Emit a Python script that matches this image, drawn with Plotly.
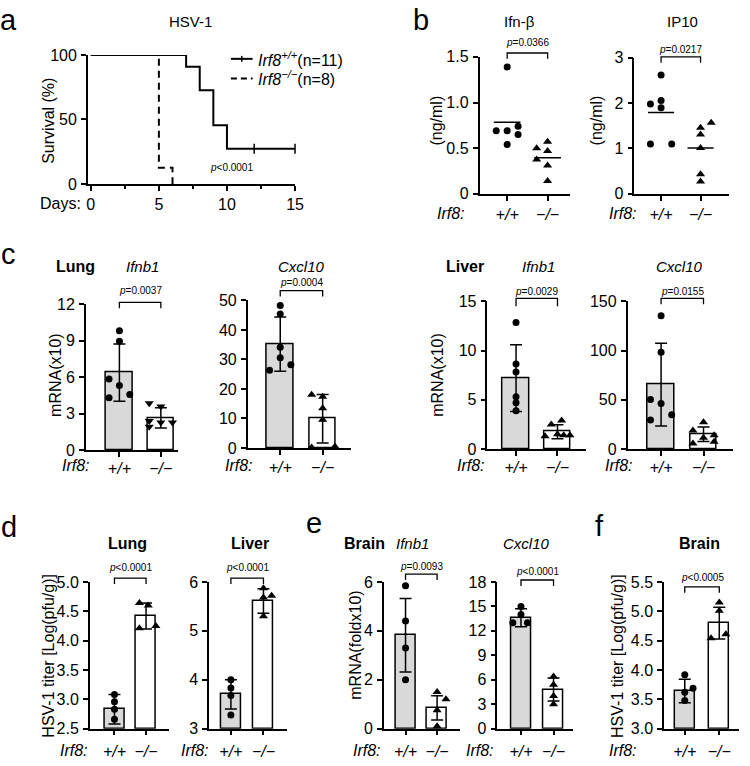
import plotly.graph_objects as go

W, H = 750, 766
FONT = "Liberation Sans, Arial, sans-serif"
GRAY = "#d9d9d9"

# ================= DATA =================
# a: survival (Kaplan-Meier)
surv_days_wt = [0, 7, 8, 9, 10, 15]
surv_pct_wt = [100, 90.9, 72.7, 45.5, 27.3, 27.3]
surv_days_ko = [0, 5, 6]
surv_pct_ko = [100, 12.5, 0]
censor_days_wt = [12, 15]
censor_pct_wt = [27.3, 27.3]
surv_xticks = [0, 5, 10, 15]
surv_yticks = [0, 50, 100]

genotype_labels = ["<i>+/+</i>", "<i>−/−</i>"]

# b: serum ELISA (ng/ml)
ifnb_serum_wt = [1.39, 0.69, 0.69, 0.74, 0.65, 0.54]
ifnb_serum_ko = [0.50, 0.57, 0.47, 0.375, 0.31, 0.14]
ip10_serum_wt = [2.62, 1.98, 2.06, 1.90, 1.10, 1.10]
ip10_serum_ko = [1.46, 1.31, 1.57, 1.01, 0.43, 0.27]
ifnb_serum_ticks = [0, 0.5, 1.0, 1.5]
ifnb_serum_ticktext = ["0", "0.5", "1.0", "1.5"]
ip10_serum_ticks = [0, 1, 2, 3]

# c: lung mRNA(x10)
lung_ifnb1_wt = [9.82, 8.95, 5.84, 5.31, 4.30, 4.57]
lung_ifnb1_ko = [3.85, 3.58, 2.39, 2.26, 2.26, 1.91]
lung_ifnb1_mean = [6.37, 2.65]
lung_ifnb1_sd = [2.35, 0.83]
lung_ifnb1_ticks = [0, 3, 6, 9, 12]

lung_cxcl10_wt = [48.3, 45.4, 34.1, 30.6, 26.3, 28.2]
lung_cxcl10_ko = [18.0, 17.4, 13.5, 9.6, 0.2, 0.5]
lung_cxcl10_mean = [35.2, 9.9]
lung_cxcl10_sd = [9.2, 8.2]
lung_cxcl10_ticks = [0, 10, 20, 30, 40, 50]

# c: liver mRNA(x10)
liver_ifnb1_wt = [12.84, 8.63, 7.83, 5.31, 4.71, 3.88]
liver_ifnb1_ko = [2.5, 2.9, 1.3, 1.5, 1.4, 1.4]
liver_ifnb1_mean = [7.2, 1.75]
liver_ifnb1_sd = [3.4, 0.7]
liver_ifnb1_ticks = [0, 5, 10, 15]

liver_cxcl10_wt = [135.4, 98.2, 50.4, 46.1, 29.5, 34.8]
liver_cxcl10_ko = [18.9, 27.2, 11.3, 5.6, 13.9, 7.3]
liver_cxcl10_mean = [65.4, 14.9]
liver_cxcl10_sd = [42.0, 7.4]
liver_cxcl10_ticks = [0, 50, 100, 150]

# d: viral titer Log(pfu/g)
lung_titer_wt = [3.08, 2.96, 2.83, 2.66]
lung_titer_ko = [4.64, 4.60, 4.21, 4.25]
lung_titer_mean = [2.83, 4.42]
lung_titer_sd = [0.25, 0.22]
lung_titer_ticks = [2.5, 3.0, 3.5, 4.0, 4.5, 5.0]
lung_titer_ticktext = ["2.5", "3.0", "3.5", "4.0", "4.5", "5.0"]

liver_titer_wt = [4.0, 3.83, 3.68, 3.28]
liver_titer_ko = [5.87, 5.68, 5.72, 5.30]
liver_titer_mean = [3.70, 5.61]
liver_titer_sd = [0.30, 0.25]
liver_titer_ticks = [3, 4, 5, 6]

# e: brain mRNA(foldx10)
brain_ifnb1_wt = [5.85, 4.4, 3.3, 2.0]
brain_ifnb1_ko = [1.5, 1.2, 0.75, 0.1]
brain_ifnb1_mean = [3.82, 0.85]
brain_ifnb1_sd = [1.5, 0.5]
brain_ifnb1_ticks = [0, 2, 4, 6]

brain_cxcl10_wt = [15.0, 14.0, 13.0, 13.0]
brain_cxcl10_ko = [6.4, 5.4, 4.0, 3.0]
brain_cxcl10_mean = [13.6, 4.8]
brain_cxcl10_sd = [1.1, 1.4]
brain_cxcl10_ticks = [0, 3, 6, 9, 12, 15, 18]

# f: brain titer Log(pfu/g)
brain_titer_wt = [3.92, 3.69, 3.62, 3.48]
brain_titer_ko = [5.15, 5.01, 4.54, 4.61]
brain_titer_mean = [3.64, 4.80]
brain_titer_sd = [0.20, 0.27]
brain_titer_ticks = [3.0, 3.5, 4.0, 4.5, 5.0, 5.5]
brain_titer_ticktext = ["3.0", "3.5", "4.0", "4.5", "5.0", "5.5"]

# horizontal jitter of dots (category units) -- layout only
jit_ifnb_serum_wt = [0, -0.27, 0, 0.27, 0.27, 0]
jit_ifnb_serum_ko = [-0.27, 0, 0, -0.27, 0, 0]
jit_ip10_serum_wt = [0, -0.27, 0, 0, -0.27, 0.27]
jit_ip10_serum_ko = [0, 0, 0.27, 0, 0, 0]
jit_lung_ifnb1_wt = [0, 0, -0.25, 0, -0.25, 0.25]
jit_lung_ifnb1_ko = [-0.28, 0, -0.28, 0, 0.28, -0.28]
jit_lung_cxcl10_wt = [0, 0, 0, 0, -0.25, 0.25]
jit_lung_cxcl10_ko = [-0.26, 0, 0, 0, -0.26, 0.29]
jit_liver_ifnb1_wt = [0, 0, 0, 0, 0, 0]
jit_liver_ifnb1_ko = [-0.15, 0.1, -0.3, 0, 0.15, 0.3]
jit_liver_cxcl10_wt = [0, 0, -0.25, 0, -0.25, 0.25]
jit_liver_cxcl10_ko = [-0.25, 0, 0, -0.25, 0.25, 0.25]
jit_lung_titer_wt = [0, 0, 0, 0]
jit_lung_titer_ko = [-0.21, 0.07, -0.21, 0.31]
jit_liver_titer_wt = [0, 0, 0, 0]
jit_liver_titer_ko = [0, 0, 0.25, 0]
jit_brain_ifnb1_wt = [0, 0, 0, 0]
jit_brain_ifnb1_ko = [0, 0.28, 0, 0]
jit_brain_cxcl10_wt = [0, 0, -0.25, 0.2]
jit_brain_cxcl10_ko = [0, 0, 0, 0]
jit_brain_titer_wt = [0, 0.24, 0, 0]
jit_brain_titer_ko = [0, 0, -0.24, 0.19]

# ================= FIGURE =================
fig = go.Figure()


def X(px):
    return px / W


def Y(py):
    return 1 - py / H


counter = [0]
annotations = []
shapes = []


def tfont(size=16, color="black"):
    return dict(family=FONT, size=size, color=color)


def add_axes(xL, xR, yT, yB, xrange, yrange, xvals, xtext, yvals, ytext, xstand=0):
    counter[0] += 1
    n = counter[0]
    sx = "" if n == 1 else str(n)
    common = dict(showline=True, linewidth=1.5, linecolor="black", ticks="outside",
                  ticklen=5, tickwidth=1.5, tickcolor="black", showgrid=False,
                  zeroline=False, fixedrange=True, tickfont=tfont(16))
    xa = dict(domain=[X(xL), X(xR)], range=xrange, anchor="y" + sx,
              tickmode="array", tickvals=xvals, ticktext=xtext,
              ticklabelstandoff=xstand, **common)
    ya = dict(domain=[Y(yB), Y(yT)], range=yrange, anchor="x" + sx,
              tickmode="array", tickvals=yvals, ticktext=ytext,
              ticklabelstandoff=1, **common)
    fig.update_layout(**{"xaxis" + sx: xa, "yaxis" + sx: ya})
    return "x" + sx, "y" + sx


def bracket(xa, yTop, yBot, ptext, yText):
    shapes.append(dict(type="path", xref=xa, yref="paper",
                       path=f"M 0,{Y(yBot)} L 0,{Y(yTop)} L 1,{Y(yTop)} L 1,{Y(yBot)}",
                       line=dict(color="black", width=1.3)))
    annotations.append(dict(xref=xa, yref="paper", x=0.5, y=Y(yText), text=ptext,
                            showarrow=False, xanchor="center", yanchor="middle",
                            font=tfont(10)))


def text(px, py, s, size=16, xanchor="center", angle=0):
    annotations.append(dict(xref="paper", yref="paper", x=X(px), y=Y(py), text=s,
                            showarrow=False, xanchor=xanchor, yanchor="middle",
                            textangle=angle, font=tfont(size)))


def cat_range(xL, xR, c0, c1):
    s = c1 - c0
    return [(xL - c0) / s, (xR - c0) / s], s


# ---------- panel a ----------
xa, ya = add_axes(88, 298, 48, 180, [-0.22, 15], [0, 100],
                  surv_xticks, [str(v) for v in surv_xticks],
                  surv_yticks, [str(v) for v in surv_yticks], 0)
fig.update_layout(xaxis=dict(minor=dict(dtick=2.5, ticks="outside", ticklen=3,
                                        tickwidth=1.5, tickcolor="black")))
fig.add_trace(go.Scatter(x=surv_days_wt, y=surv_pct_wt, mode="lines", line_shape="hv",
                         line=dict(color="black", width=2), xaxis=xa, yaxis=ya,
                         cliponaxis=False))
fig.add_trace(go.Scatter(x=surv_days_ko, y=surv_pct_ko, mode="lines", line_shape="hv",
                         line=dict(color="black", width=2, dash="7px,5px"),
                         xaxis=xa, yaxis=ya, cliponaxis=False))
fig.add_trace(go.Scatter(x=censor_days_wt, y=censor_pct_wt, mode="markers",
                         marker=dict(symbol="line-ns-open", size=7, color="black",
                                     line=dict(color="black", width=1.5)),
                         xaxis=xa, yaxis=ya, cliponaxis=False))
# legend (drawn manually)
shapes.append(dict(type="line", xref="paper", yref="paper", x0=X(233), x1=X(255),
                   y0=Y(52), y1=Y(52), line=dict(color="black", width=2)))
shapes.append(dict(type="line", xref="paper", yref="paper", x0=X(244), x1=X(244),
                   y0=Y(49), y1=Y(55), line=dict(color="black", width=1.5)))
shapes.append(dict(type="line", xref="paper", yref="paper", x0=X(233), x1=X(255),
                   y0=Y(72), y1=Y(72), line=dict(color="black", width=2, dash="6px,4px")))
text(258, 52, "<i>Irf8</i><sup><i>+/+</i></sup>(n=11)", 16, "left")
text(258, 72, "<i>Irf8</i><sup><i>−/−</i></sup>(n=8)", 16, "left")
text(234, 163, "<i>p</i><0.0001", 10)
text(83, 200, "Days:", 16, "right")
text(192, 14, "HSV-1", 15)
text(48, 115, "Survival (%)", 16, angle=-90)

# ---------- panel b ----------
def scatter_panel(geom, wt, wjit, ko, kjit, yvals, ytext, br, ptext):
    xL, xR, yT, yB, c0, c1 = geom
    xr, s = cat_range(xL, xR, c0, c1)
    xa, ya = add_axes(xL, xR, yT, yB, xr, [yvals[0], yvals[-1]], [0, 1], genotype_labels,
                      yvals, ytext, 0)
    fig.add_trace(go.Scatter(x=[0 + j for j in wjit], y=wt, mode="markers",
                             marker=dict(symbol="circle", size=7, color="black"),
                             xaxis=xa, yaxis=ya, cliponaxis=False))
    fig.add_trace(go.Scatter(x=[1 + j for j in kjit], y=ko, mode="markers",
                             marker=dict(symbol="triangle-up", size=8, color="black"),
                             xaxis=xa, yaxis=ya, cliponaxis=False))
    mw = sum(wt) / len(wt)
    mk = sum(ko) / len(ko)
    fig.add_trace(go.Scatter(x=[-0.33, 0.33, None, 0.67, 1.33], y=[mw, mw, None, mk, mk],
                             mode="lines", line=dict(color="black", width=1.5),
                             xaxis=xa, yaxis=ya, cliponaxis=False))
    bracket(xa, br[0], br[1], ptext, br[2])
    return xa


scatter_panel((485, 577, 50, 190, 513, 554), ifnb_serum_wt, jit_ifnb_serum_wt,
              ifnb_serum_ko, jit_ifnb_serum_ko, ifnb_serum_ticks, ifnb_serum_ticktext,
              (46, 52, 35), "<i>p</i>=0.0366")
scatter_panel((642, 738, 51, 190, 669, 709), ip10_serum_wt, jit_ip10_serum_wt,
              ip10_serum_ko, jit_ip10_serum_ko, ip10_serum_ticks,
              [str(v) for v in ip10_serum_ticks],
              (50, 56, 42), "<i>p</i>=0.0217")
text(426, 12, "b", 29)
text(526, 14, "Ifn-β", 15)
text(691, 14, "IP10", 15)
text(441, 115, "(ng/ml)", 16, angle=-90)
text(603, 115, "(ng/ml)", 16, angle=-90)
text(472, 210, "<i>Irf8:</i>", 16, "right")
text(647, 210, "<i>Irf8:</i>", 16, "right")


# ---------- bar panels ----------
def bar_panel(geom, bar_px, wt, wjit, ko, kjit, means, sds, yvals, ytext, ko_sym, br, ptext,
              xstand=0):
    xL, xR, yT, yB, c0, c1 = geom
    xr, s = cat_range(xL, xR, c0, c1)
    y0 = yvals[0]
    xa, ya = add_axes(xL, xR, yT, yB, xr, [y0, yvals[-1]], [0, 1], genotype_labels,
                      yvals, ytext, xstand)
    fig.add_trace(go.Bar(x=[0, 1], y=[m - y0 for m in means], base=y0, width=bar_px / s,
                         marker=dict(color=[GRAY, "white"],
                                     line=dict(color="black", width=1.5)),
                         xaxis=xa, yaxis=ya))
    fig.add_trace(go.Scatter(x=[0, 1], y=means, mode="markers",
                             marker=dict(size=2, color="rgba(0,0,0,0)"),
                             error_y=dict(type="data", array=sds, visible=True,
                                          color="black", thickness=1.5, width=6),
                             xaxis=xa, yaxis=ya, cliponaxis=False))
    fig.add_trace(go.Scatter(x=[0 + j for j in wjit], y=wt, mode="markers",
                             marker=dict(symbol="circle", size=7, color="black"),
                             xaxis=xa, yaxis=ya, cliponaxis=False))
    fig.add_trace(go.Scatter(x=[1 + j for j in kjit], y=ko, mode="markers",
                             marker=dict(symbol=ko_sym, size=8, color="black"),
                             xaxis=xa, yaxis=ya, cliponaxis=False))
    bracket(xa, br[0], br[1], ptext, br[2])
    return xa


def strs(v):
    return [str(t) for t in v]


# c - lung
bar_panel((86, 179, 303, 452, 120, 162), 27, lung_ifnb1_wt, jit_lung_ifnb1_wt,
          lung_ifnb1_ko, jit_lung_ifnb1_ko, lung_ifnb1_mean, lung_ifnb1_sd,
          lung_ifnb1_ticks, strs(lung_ifnb1_ticks), "triangle-down",
          (301, 307, 289), "<i>p</i>=0.0037", -2)
bar_panel((250, 355, 299, 450, 283, 326), 27, lung_cxcl10_wt, jit_lung_cxcl10_wt,
          lung_cxcl10_ko, jit_lung_cxcl10_ko, lung_cxcl10_mean, lung_cxcl10_sd,
          lung_cxcl10_ticks, strs(lung_cxcl10_ticks), "triangle-up",
          (289, 295, 281), "<i>p</i>=0.0004", -1)
# c - liver
bar_panel((493, 593, 300, 451, 522, 564), 27, liver_ifnb1_wt, jit_liver_ifnb1_wt,
          liver_ifnb1_ko, jit_liver_ifnb1_ko, liver_ifnb1_mean, liver_ifnb1_sd,
          liver_ifnb1_ticks, strs(liver_ifnb1_ticks), "triangle-up",
          (297, 305, 290), "<i>p</i>=0.0029", -2)
bar_panel((635, 742, 300, 451, 669, 712), 27, liver_cxcl10_wt, jit_liver_cxcl10_wt,
          liver_cxcl10_ko, jit_liver_cxcl10_ko, liver_cxcl10_mean, liver_cxcl10_sd,
          liver_cxcl10_ticks, strs(liver_cxcl10_ticks), "triangle-up",
          (297, 303, 290), "<i>p</i>=0.0155", -2)
text(8, 252, "c", 29)
text(75, 264, "<b>Lung</b>", 16)
text(143, 264, "<i>Ifnb1</i>", 15)
text(305, 264, "<i>Cxcl10</i>", 15)
text(470, 264, "<b>Liver</b>", 16)
text(545, 264, "<i>Ifnb1</i>", 15)
text(688, 264, "<i>Cxcl10</i>", 15)
text(55, 375, "mRNA(x10)", 16, angle=-90)
text(443, 375, "mRNA(x10)", 16, angle=-90)
for xr_ in (92, 257, 493, 643):
    text(xr_, 468, "<i>Irf8:</i>", 16, "right")

# d
bar_panel((90, 170, 587, 737, 115, 147), 20, lung_titer_wt, jit_lung_titer_wt,
          lung_titer_ko, jit_lung_titer_ko, lung_titer_mean, lung_titer_sd,
          lung_titer_ticks, lung_titer_ticktext, "triangle-up",
          (583, 589, 572), "<i>p</i><0.0001", 2)
bar_panel((211, 290, 587, 737, 233, 266), 20, liver_titer_wt, jit_liver_titer_wt,
          liver_titer_ko, jit_liver_titer_ko, liver_titer_mean, liver_titer_sd,
          liver_titer_ticks, strs(liver_titer_ticks), "triangle-up",
          (583, 589, 572), "<i>p</i><0.0001", 2)
# e
bar_panel((388, 465, 587, 737, 410, 442), 20, brain_ifnb1_wt, jit_brain_ifnb1_wt,
          brain_ifnb1_ko, jit_brain_ifnb1_ko, brain_ifnb1_mean, brain_ifnb1_sd,
          brain_ifnb1_ticks, strs(brain_ifnb1_ticks), "triangle-up",
          (579, 585, 571), "<i>p</i>=0.0093", 2)
bar_panel((503, 580, 587, 737, 527, 560), 20, brain_cxcl10_wt, jit_brain_cxcl10_wt,
          brain_cxcl10_ko, jit_brain_cxcl10_ko, brain_cxcl10_mean, brain_cxcl10_sd,
          brain_cxcl10_ticks, strs(brain_cxcl10_ticks), "triangle-up",
          (585, 591, 576), "<i>p</i><0.0001", 2)
# f
bar_panel((672, 748, 587, 737, 693, 728), 20, brain_titer_wt, jit_brain_titer_wt,
          brain_titer_ko, jit_brain_titer_ko, brain_titer_mean, brain_titer_sd,
          brain_titer_ticks, brain_titer_ticktext, "triangle-up",
          (592, 598, 582), "<i>p</i><0.0005", 2)

text(8, 531, "d", 29)
text(317, 527, "e", 29)
text(607, 530, "f", 29)
text(8, 12, "a", 29)
text(128, 548, "<b>Lung</b>", 16)
text(252, 548, "<b>Liver</b>", 16)
text(368, 548, "<b>Brain</b>", 16)
text(417, 548, "<i>Ifnb1</i>", 15)
text(533, 548, "<i>Cxcl10</i>", 15)
text(708, 548, "<b>Brain</b>", 16)
text(48, 662, "HSV-1 titer [Log(pfu/g)]", 16, angle=-90)
text(359, 652, "mRNA(foldx10)", 16, angle=-90)
text(625, 663, "HSV-1 titer [Log(pfu/g)]", 16, angle=-90)
for xr_ in (90, 213, 387, 502, 647):
    text(xr_, 759, "<i>Irf8:</i>", 16, "right")

fig.update_layout(width=W, height=H, margin=dict(l=0, r=0, t=0, b=0),
                  paper_bgcolor="white", plot_bgcolor="rgba(0,0,0,0)",
                  showlegend=False, hovermode=False, bargap=0,
                  annotations=annotations, shapes=shapes,
                  font=dict(family=FONT, color="black"))
fig.write_html("out.html", config={"displayModeBar": False},
               post_script="document.body.style.margin='0';document.body.style.padding='0';")
